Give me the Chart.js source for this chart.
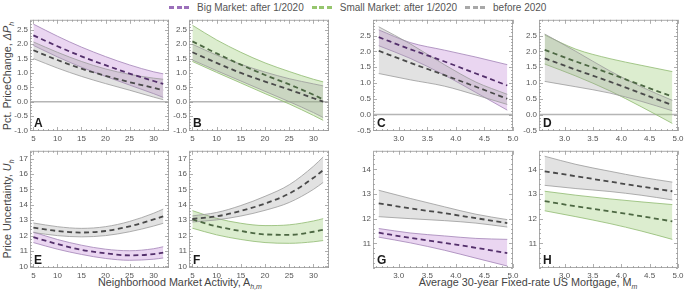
<!DOCTYPE html>
<html><head><meta charset="utf-8">
<script src="https://cdn.jsdelivr.net/npm/chart.js@4"></script>
<style>
body{margin:0;background:#fff;width:685px;height:292px;overflow:hidden;position:relative;font-family:'Liberation Sans',Arial,sans-serif;}
canvas{position:absolute;}
.t{position:absolute;color:#444;white-space:nowrap;font-size:10.8px;}
.t sub{color:#444;}
.lg{position:absolute;top:1px;left:169px;display:flex;align-items:center;font-size:10px;color:#555;height:12px;}
.dash{display:inline-flex;gap:2.5px;margin-right:8px;}
.dash i{display:inline-block;width:5px;height:3px;}
.item{display:flex;align-items:center;margin-right:8px;}
</style></head><body>
<div class="lg">
  <div class="item"><span class="dash"><i style="background:#9b6fba"></i><i style="background:#9b6fba"></i><i style="background:#9b6fba"></i></span>Big Market: after 1/2020</div>
  <div class="item"><span class="dash"><i style="background:#96c66e"></i><i style="background:#96c66e"></i><i style="background:#96c66e"></i></span>Small Market: after 1/2020</div>
  <div class="item"><span class="dash"><i style="background:#a8a8a8"></i><i style="background:#a8a8a8"></i><i style="background:#a8a8a8"></i></span>before 2020</div>
</div>
<div class="t" style="left:8px;top:76px;transform:translate(-50%,-50%) rotate(-90deg);">Pct. PriceChange, <i>ΔP<sub style="font-size:7px">h</sub></i></div>
<div class="t" style="left:8px;top:209px;transform:translate(-50%,-50%) rotate(-90deg);">Price Uncertainty, <i>U<sub style="font-size:7px">h</sub></i></div>
<div class="t" style="left:180px;top:283px;transform:translate(-50%,-50%);">Neighborhood Market Activity, A<sub style="font-size:7px"><i>h,m</i></sub></div>
<div class="t" style="left:528px;top:283px;transform:translate(-50%,-50%);">Average 30-year Fixed-rate US Mortgage, M<sub style="font-size:7px"><i>m</i></sub></div>
<script>
// ---------- DATA ----------
// x values: neighborhood market activity (panels A, B, E, F)
const activityX = [5, 10, 15, 20, 25, 30, 32];
// x values: 30-year mortgage rate (panels C, D, G, H)
const mortgageX = [2.65, 3.2, 3.8, 4.35, 4.9];

// Panel A (Big market, price change vs activity)
const A_big_mean = [2.31, 1.93, 1.58, 1.27, 0.98, 0.72, 0.62];
const A_big_hi   = [2.70, 2.28, 1.90, 1.57, 1.28, 1.04, 0.97];
const A_big_lo   = [1.96, 1.56, 1.20, 0.88, 0.58, 0.28, 0.15];
const A_pre_mean = [1.79, 1.45, 1.15, 0.90, 0.68, 0.48, 0.40];
const A_pre_hi   = [2.08, 1.72, 1.40, 1.14, 0.95, 0.82, 0.78];
const A_pre_lo   = [1.50, 1.17, 0.88, 0.63, 0.40, 0.16, 0.07];
// Panel B (Small market, price change vs activity)
const B_small_mean = [2.10, 1.68, 1.29, 0.93, 0.60, 0.24, 0.08];
const B_small_hi   = [2.66, 2.15, 1.72, 1.35, 1.05, 0.78, 0.69];
const B_small_lo   = [1.40, 1.02, 0.65, 0.28, -0.08, -0.48, -0.65];
const B_pre_mean   = [1.72, 1.35, 1.00, 0.70, 0.42, 0.12, 0.00];
const B_pre_hi     = [2.00, 1.62, 1.30, 1.03, 0.80, 0.62, 0.55];
const B_pre_lo     = [1.45, 1.08, 0.72, 0.36, 0.00, -0.38, -0.55];
// Panel C (Big market, price change vs mortgage rate)
const C_big_mean = [2.45, 2.07, 1.68, 1.30, 0.92];
const C_big_hi   = [2.68, 2.28, 2.04, 1.82, 1.58];
const C_big_lo   = [2.18, 1.78, 1.25, 0.70, 0.14];
const C_pre_mean = [2.02, 1.64, 1.25, 0.88, 0.50];
const C_pre_hi   = [2.78, 2.24, 1.58, 1.03, 0.64];
const C_pre_lo   = [1.30, 1.10, 0.90, 0.62, 0.32];
// Panel D (Small market, price change vs mortgage rate)
const D_small_mean = [2.05, 1.68, 1.30, 0.93, 0.57];
const D_small_hi   = [2.52, 2.07, 1.77, 1.56, 1.36];
const D_small_lo   = [1.60, 1.22, 0.75, 0.25, -0.28];
const D_pre_mean   = [1.78, 1.42, 1.04, 0.67, 0.30];
const D_pre_hi     = [2.55, 2.00, 1.38, 0.88, 0.45];
const D_pre_lo     = [1.05, 0.88, 0.68, 0.42, 0.12];
// Panel E (Big market, uncertainty vs activity)
const E_big_mean = [11.90, 11.45, 11.08, 10.85, 10.72, 10.80, 10.90];
const E_big_hi   = [12.23, 11.75, 11.38, 11.12, 11.02, 11.15, 11.28];
const E_big_lo   = [11.55, 11.12, 10.78, 10.52, 10.40, 10.47, 10.55];
const E_pre_mean = [12.52, 12.30, 12.20, 12.30, 12.60, 13.05, 13.25];
const E_pre_hi   = [12.82, 12.58, 12.47, 12.58, 12.92, 13.45, 13.72];
const E_pre_lo   = [12.20, 12.00, 11.92, 12.00, 12.25, 12.62, 12.80];
// Panel F (Small market, uncertainty vs activity)
const F_small_mean = [13.05, 12.60, 12.30, 12.08, 12.05, 12.25, 12.38];
const F_small_hi   = [13.62, 13.12, 12.80, 12.65, 12.70, 12.95, 13.10];
const F_small_lo   = [12.48, 12.05, 11.75, 11.55, 11.50, 11.60, 11.68];
const F_pre_mean   = [13.08, 13.25, 13.60, 14.08, 14.73, 15.75, 16.25];
const F_pre_hi     = [13.28, 13.50, 13.95, 14.55, 15.30, 16.50, 17.10];
const F_pre_lo     = [12.88, 13.02, 13.27, 13.64, 14.15, 15.00, 15.45];
// Panel G (Big market, uncertainty vs mortgage rate)
const G_big_mean = [11.43, 11.22, 11.02, 10.82, 10.60];
const G_big_hi   = [11.60, 11.42, 11.30, 11.20, 11.16];
const G_big_lo   = [11.25, 11.02, 10.72, 10.40, 10.08];
const G_pre_mean = [12.62, 12.42, 12.22, 12.02, 11.82];
const G_pre_hi   = [13.15, 12.82, 12.48, 12.18, 11.96];
const G_pre_lo   = [12.08, 12.00, 11.92, 11.82, 11.66];
// Panel H (Small market, uncertainty vs mortgage rate)
const H_small_mean = [12.71, 12.50, 12.30, 12.10, 11.89];
const H_small_hi   = [13.11, 12.95, 12.80, 12.68, 12.57];
const H_small_lo   = [12.32, 12.08, 11.80, 11.50, 11.16];
const H_pre_mean   = [13.92, 13.72, 13.50, 13.30, 13.11];
const H_pre_hi     = [14.53, 14.20, 13.92, 13.68, 13.48];
const H_pre_lo     = [13.35, 13.22, 13.10, 12.95, 12.76];

// tick labels
const activityTicks = [5, 10, 15, 20, 25, 30];
const mortgageTicks = [3.0, 3.5, 4.0, 4.5, 5.0];
const changeTicksAB = [-1.0, -0.5, 0.0, 0.5, 1.0, 1.5, 2.0, 2.5];
const changeTicksCD = [-0.5, 0.0, 0.5, 1.0, 1.5, 2.0, 2.5];
const uncTicksEF = [10, 11, 12, 13, 14, 15, 16, 17];
const uncTicksGH = [11, 12, 13, 14];

// ---------- STYLE ----------
const FONT = "'Liberation Sans', Arial, sans-serif";
const STY = {
  big:   {line:'#532f6b', edge:'#a283b6', fill:'rgba(190,132,212,0.33)'},
  small: {line:'#4d6843', edge:'#8fba70', fill:'rgba(150,200,110,0.33)'},
  pre:   {line:'#4a4a4a', edge:'#9a9a9a', fill:'rgba(160,160,160,0.30)'}
};

function panel(cfg){
  const L=28,R=10,T=6,B=14;
  const c=document.createElement('canvas');
  const w=L+cfg.fw+R, h=T+cfg.fh+B;
  c.width=w; c.height=h;
  c.style.left=(cfg.fx-L)+'px'; c.style.top=(cfg.fy-T)+'px';
  document.body.appendChild(c);
  const pts=arr=>cfg.xs.map((x,i)=>({x:x,y:arr[i]}));
  const ds=[];
  cfg.series.forEach(s=>{
    const st=STY[s.kind];
    ds.push({data:pts(s.lo),borderColor:st.edge,borderWidth:0.8,pointRadius:0,fill:false,cubicInterpolationMode:'monotone',order:2});
    ds.push({data:pts(s.hi),borderColor:st.edge,borderWidth:0.8,pointRadius:0,fill:'-1',backgroundColor:st.fill,cubicInterpolationMode:'monotone',order:2});
  });
  cfg.series.forEach(s=>{
    const st=STY[s.kind];
    ds.push({data:pts(s.mean),borderColor:st.line,borderWidth:1.8,borderDash:[5,3.5],pointRadius:0,fill:false,cubicInterpolationMode:'monotone',order:0});
  });
  const framePlugin={
    id:'frame',
    beforeDatasetsDraw(chart){
      if(!cfg.zero) return;
      const {ctx,chartArea:a,scales:{y}}=chart;
      const py=y.getPixelForValue(0);
      ctx.save();ctx.strokeStyle='#b5b5b5';ctx.lineWidth=1.6;
      ctx.beginPath();ctx.moveTo(a.left,py);ctx.lineTo(a.right,py);ctx.stroke();ctx.restore();
    },
    afterDraw(chart){
      const {ctx,chartArea:a,scales:{x,y}}=chart;
      ctx.save();
      ctx.strokeStyle='#aaaaaa';ctx.lineWidth=1;
      ctx.strokeRect(a.left+0.5,a.top+0.5,a.right-a.left-1,a.bottom-a.top-1);
      ctx.strokeStyle='#999';ctx.lineWidth=0.8;ctx.beginPath();
      const isMaj=(v,list)=>list.some(t=>Math.abs(t-v)<1e-6);
      const k0=Math.ceil(cfg.xmin/cfg.xminor-1e-6),k1=Math.floor(cfg.xmax/cfg.xminor+1e-6);
      for(let k=k0;k<=k1;k++){const v=k*cfg.xminor;const px=Math.round(x.getPixelForValue(v))+0.5;const len=isMaj(v,cfg.xt)?4:2;
        ctx.moveTo(px,a.bottom);ctx.lineTo(px,a.bottom-len);ctx.moveTo(px,a.top);ctx.lineTo(px,a.top+len);}
      const j0=Math.ceil(cfg.ymin/cfg.yminor-1e-6),j1=Math.floor(cfg.ymax/cfg.yminor+1e-6);
      for(let k=j0;k<=j1;k++){const v=k*cfg.yminor;const py=Math.round(y.getPixelForValue(v))+0.5;const len=isMaj(v,cfg.yt)?4:2;
        ctx.moveTo(a.left,py);ctx.lineTo(a.left+len,py);ctx.moveTo(a.right,py);ctx.lineTo(a.right-len,py);}
      ctx.stroke();
      ctx.fillStyle='#1a1a1a';ctx.font='bold 12px '+FONT;ctx.textBaseline='alphabetic';ctx.textAlign='left';
      ctx.fillText(cfg.letter,a.left+4,a.bottom-4);
      ctx.restore();
    }
  };
  new Chart(c,{
    type:'line',
    data:{datasets:ds},
    options:{
      responsive:false,animation:false,devicePixelRatio:1,
      layout:{padding:{top:T,right:R,left:0,bottom:0}},
      plugins:{legend:{display:false},tooltip:{enabled:false}},
      scales:{
        x:{type:'linear',min:cfg.xmin,max:cfg.xmax,grid:{display:false,drawTicks:false},border:{display:false},
          afterBuildTicks:s=>{s.ticks=cfg.xt.map(v=>({value:v}));},
          afterFit:s=>{s.height=B;},
          ticks:{font:{size:8,family:FONT},color:'#555',padding:3,maxRotation:0,autoSkip:false,callback:v=>cfg.xfmt(v)}},
        y:{type:'linear',min:cfg.ymin,max:cfg.ymax,grid:{display:false,drawTicks:false},border:{display:false},
          afterBuildTicks:s=>{s.ticks=cfg.yt.map(v=>({value:v}));},
          afterFit:s=>{s.width=L;},
          ticks:{font:{size:8,family:FONT},color:'#555',padding:2,autoSkip:false,callback:v=>cfg.yfmt(v)}}
      }
    },
    plugins:[framePlugin]
  });
}
const f1=v=>v.toFixed(1), f0=v=>String(Math.round(v));
const rowTop={fy:19,fh:112}, rowBot={fy:150,fh:118};
const actCfg={xs:activityX,xmin:4.3,xmax:33.2,xt:activityTicks,xminor:1,xfmt:f0};
const morCfg={xs:mortgageX,xmin:2.55,xmax:5.0,xt:mortgageTicks,xminor:0.1,xfmt:f1};

panel(Object.assign({},rowTop,actCfg,{fx:30,fw:139,letter:'A',zero:true,ymin:-1.02,ymax:2.85,yt:changeTicksAB,yminor:0.1,yfmt:f1,
  series:[{kind:'pre',mean:A_pre_mean,hi:A_pre_hi,lo:A_pre_lo},{kind:'big',mean:A_big_mean,hi:A_big_hi,lo:A_big_lo}]}));
panel(Object.assign({},rowTop,actCfg,{fx:189,fw:140,letter:'B',zero:true,ymin:-1.02,ymax:2.85,yt:changeTicksAB,yminor:0.1,yfmt:f1,
  series:[{kind:'pre',mean:B_pre_mean,hi:B_pre_hi,lo:B_pre_lo},{kind:'small',mean:B_small_mean,hi:B_small_hi,lo:B_small_lo}]}));
panel(Object.assign({},rowTop,morCfg,{fx:373,fw:140,letter:'C',zero:true,ymin:-0.52,ymax:3.0,yt:changeTicksCD,yminor:0.1,yfmt:f1,
  series:[{kind:'pre',mean:C_pre_mean,hi:C_pre_hi,lo:C_pre_lo},{kind:'big',mean:C_big_mean,hi:C_big_hi,lo:C_big_lo}]}));
panel(Object.assign({},rowTop,morCfg,{fx:539,fw:139,letter:'D',zero:true,ymin:-0.52,ymax:3.0,yt:changeTicksCD,yminor:0.1,yfmt:f1,
  series:[{kind:'pre',mean:D_pre_mean,hi:D_pre_hi,lo:D_pre_lo},{kind:'small',mean:D_small_mean,hi:D_small_hi,lo:D_small_lo}]}));
panel(Object.assign({},rowBot,actCfg,{fx:30,fw:139,letter:'E',zero:false,ymin:9.9,ymax:17.5,yt:uncTicksEF,yminor:0.2,yfmt:f0,
  series:[{kind:'pre',mean:E_pre_mean,hi:E_pre_hi,lo:E_pre_lo},{kind:'big',mean:E_big_mean,hi:E_big_hi,lo:E_big_lo}]}));
panel(Object.assign({},rowBot,actCfg,{fx:189,fw:140,letter:'F',zero:false,ymin:9.9,ymax:17.5,yt:uncTicksEF,yminor:0.2,yfmt:f0,
  series:[{kind:'pre',mean:F_pre_mean,hi:F_pre_hi,lo:F_pre_lo},{kind:'small',mean:F_small_mean,hi:F_small_hi,lo:F_small_lo}]}));
panel(Object.assign({},rowBot,morCfg,{fx:373,fw:140,letter:'G',zero:false,ymin:10.0,ymax:14.75,yt:uncTicksGH,yminor:0.2,yfmt:f0,
  series:[{kind:'pre',mean:G_pre_mean,hi:G_pre_hi,lo:G_pre_lo},{kind:'big',mean:G_big_mean,hi:G_big_hi,lo:G_big_lo}]}));
panel(Object.assign({},rowBot,morCfg,{fx:539,fw:139,letter:'H',zero:false,ymin:10.0,ymax:14.75,yt:uncTicksGH,yminor:0.2,yfmt:f0,
  series:[{kind:'pre',mean:H_pre_mean,hi:H_pre_hi,lo:H_pre_lo},{kind:'small',mean:H_small_mean,hi:H_small_hi,lo:H_small_lo}]}));
</script>
</body></html>
